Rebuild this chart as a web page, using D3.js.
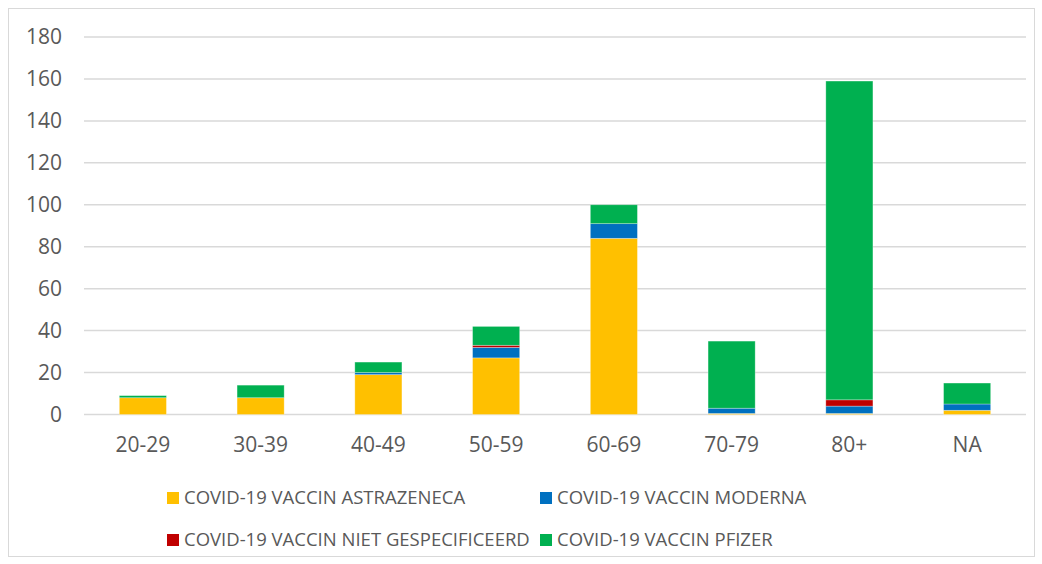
<!DOCTYPE html>
<html>
<head>
<meta charset="utf-8">
<script src="https://cdn.jsdelivr.net/npm/d3@7"></script>
<style>
  body { margin: 0; background: #fff; }
  svg { font-family: "Open Sans", "Liberation Sans", sans-serif; }
</style>
</head>
<body>
<div id="chart"></div>
<script>
      // chart size
      var w = 1042;
      var h = 564;

      // data
      var categories = ["20-29", "30-39", "40-49", "50-59", "60-69", "70-79", "80+", "NA"];
      var seriesNames = ["COVID-19 VACCIN ASTRAZENECA", "COVID-19 VACCIN MODERNA",
                         "COVID-19 VACCIN NIET GESPECIFICEERD", "COVID-19 VACCIN PFIZER"];
      var astrazeneca = [8, 8, 19, 27, 84, 0.5, 0.5, 2];
      var moderna     = [0, 0, 1, 5, 7, 2.5, 3.5, 3];
      var nietGesp    = [0, 0, 0, 1, 0, 0, 3, 0];
      var pfizer      = [1, 6, 5, 9, 9, 32, 152, 10];
      var yTicks = [0, 20, 40, 60, 80, 100, 120, 140, 160, 180];

      var colors = ["#FFC000", "#0070C0", "#C00000", "#00B050"];

      // build the table for d3.stack
      var table = categories.map(function(c, i){
        var row = { cat: c };
        row[seriesNames[0]] = astrazeneca[i];
        row[seriesNames[1]] = moderna[i];
        row[seriesNames[2]] = nietGesp[i];
        row[seriesNames[3]] = pfizer[i];
        return row;
      });
      var stacked = d3.stack().keys(seriesNames)(table);

      var xScale = d3.scaleBand()
                      .domain(categories)
                      .range([84, 1026])
                      .paddingInner(0.6)
                      .paddingOuter(0.3);

      var yScale = d3.scaleLinear()
                      .domain([0, 180])
                      .range([414.5, 37]);

      var svg = d3.select("#chart")
                  .append("svg")
                  .attr("width", w)
                  .attr("height", h);

      // outer border
      svg.append("rect")
          .attr("x", 8.5).attr("y", 8.5)
          .attr("width", 1026).attr("height", 548)
          .attr("fill", "none")
          .attr("stroke", "#d9d9d9");

      // gridlines
      svg.selectAll("line.grid")
          .data(yTicks)
          .enter()
          .append("line")
          .attr("class", "grid")
          .attr("x1", 84).attr("x2", 1026)
          .attr("y1", function(d){ return yScale(d); })
          .attr("y2", function(d){ return yScale(d); })
          .attr("stroke", "#d9d9d9")
          .attr("stroke-width", 1.5);

      // y axis labels
      var yAxis = d3.axisLeft(yScale).tickValues(yTicks).tickSize(0).tickPadding(0);
      var gy = svg.append("g")
          .attr("transform", "translate(62,0)")
          .call(yAxis);
      gy.select(".domain").remove();
      gy.selectAll("text")
          .attr("font-size", "21px")
          .attr("fill", "#595959")
          .attr("font-family", "Open Sans, sans-serif");

      // x axis labels
      var xAxis = d3.axisBottom(xScale).tickSize(0).tickPadding(0);
      var gx = svg.append("g")
          .attr("transform", "translate(0,437)")
          .call(xAxis);
      gx.select(".domain").remove();
      gx.selectAll("text")
          .attr("font-size", "21px")
          .attr("fill", "#595959")
          .attr("font-family", "Open Sans, sans-serif");

      // stacked bars
      svg.selectAll("g.series")
          .data(stacked)
          .enter()
          .append("g")
          .attr("class", "series")
          .attr("fill", function(d, i){ return colors[i]; })
          .selectAll("rect")
          .data(function(d){ return d; })
          .enter()
          .append("rect")
          .attr("x", function(d){ return xScale(d.data.cat); })
          .attr("y", function(d){ return yScale(d[1]); })
          .attr("width", xScale.bandwidth())
          .attr("height", function(d){ return yScale(d[0]) - yScale(d[1]); })
          .attr("stroke", "#ffffff")
          .attr("stroke-opacity", 0.4)
          .attr("stroke-width", 0.75);

      // legend: 2 x 2
      var legendPos = [[167, 498], [540, 498], [167, 540], [540, 540]];
      var legend = svg.selectAll("g.legend")
          .data(seriesNames)
          .enter()
          .append("g")
          .attr("class", "legend")
          .attr("transform", function(d, i){
            return "translate(" + legendPos[i][0] + "," + legendPos[i][1] + ")";
          });
      legend.append("rect")
          .attr("x", 0).attr("y", -6)
          .attr("width", 12).attr("height", 12)
          .attr("fill", function(d, i){ return colors[i]; });
      legend.append("text")
          .attr("x", 17)
          .attr("y", 0)
          .attr("dy", "0.35em")
          .attr("font-size", "18.5px")
          .attr("fill", "#595959")
          .text(function(d){ return d; });
</script>
</body>
</html>
